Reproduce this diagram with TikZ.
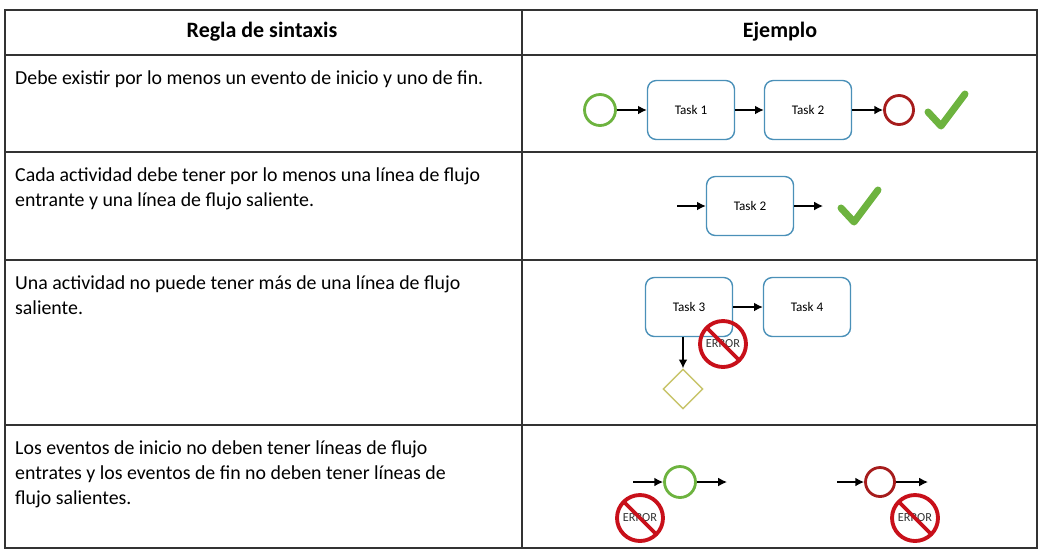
\documentclass[tikz,border=0pt]{standalone}
\usepackage{fontspec}
\setmainfont{Carlito}
\usetikzlibrary{shapes.geometric,arrows.meta,calc}
\definecolor{taskBlue}{HTML}{4A90B8}
\definecolor{startGreen}{HTML}{6DB33F}
\definecolor{endRed}{HTML}{A61C1C}
\definecolor{errRed}{HTML}{C8101A}
\definecolor{gateOlive}{HTML}{C8C46A}
\definecolor{gridGray}{HTML}{333333}

\begin{document}
\begin{tikzpicture}[
    x=0.02cm, y=-0.02cm,
    % estilos comunes
    grid_line/.style={gridGray, line width=1.2pt},
    task_box/.style={draw=taskBlue, thick, rounded corners=5pt, minimum width=1.74cm, minimum height=1.18cm, font=\fontsize{7.5}{8}\selectfont},
    start_ev/.style={circle, draw=startGreen, line width=1.6pt, minimum size=0.62cm, inner sep=0},
    end_ev/.style={circle, draw=endRed, line width=1.6pt, minimum size=0.58cm, inner sep=0},
    gate_box/.style={diamond, draw=gateOlive, thick, minimum size=0.8cm, inner sep=0},
    flow/.style={-{Latex[length=5pt,width=5pt]}, thick},
    rule_text/.style={anchor=north west, align=left, font=\fontsize{11.3}{14.5}\selectfont},
    head_text/.style={font=\bfseries\fontsize{12.5}{15}\selectfont}
]

    % --- señal de error ---
    \newcommand{\errsign}[2]{
        \node[font=\fontsize{7}{7}\selectfont, text=black!80] (#1) at (#2) {ERROR};
        \draw[errRed, line width=2.2pt] (#2) circle (0.46cm);
        \draw[errRed, line width=2.2pt] ($(#2)+(135:0.46cm)$) -- ($(#2)+(-45:0.46cm)$);
    }
    % --- marca de verificación ---
    \newcommand{\okmark}[2]{
        \coordinate (#1) at (#2);
        \draw[startGreen, line width=4pt, line cap=round, line join=round]
            ($(#1)+(-17,0)$) -- ($(#1)+(-4,14)$) -- ($(#1)+(20,-18)$);
    }

    \useasboundingbox (0,0) rectangle (1047,559);

    % --- tabla ---
    \draw[grid_line] (5,10) rectangle (1037,548);
    \draw[grid_line] (522,10) -- (522,548);
    \foreach \yy in {55,152,260,425} {
        \draw[grid_line] (5,\yy) -- (1037,\yy);
    }
    \node[head_text] (hRule) at (262,32) {Regla de sintaxis};
    \node[head_text] (hEx) at (780,32) {Ejemplo};

    \node[rule_text] (r1) at (9,64) {Debe existir por lo menos un evento de inicio y uno de fin.};
    \node[rule_text] (r2) at (9,161) {Cada actividad debe tener por lo menos una línea de flujo\\entrante y una línea de flujo saliente.};
    \node[rule_text] (r3) at (9,269) {Una actividad no puede tener más de una línea de flujo\\saliente.};
    \node[rule_text] (r4) at (9,434) {Los eventos de inicio no deben tener líneas de flujo\\entrates y los eventos de fin no deben tener líneas de\\flujo salientes.};

    % --- fila 1 ---
    \node[start_ev] (s1) at (600,110) {};
    \node[task_box] (t1) at (691,110) {Task 1};
    \node[task_box] (t2) at (808,110) {Task 2};
    \node[end_ev] (e1) at (899,110) {};
    \draw[flow] (s1) -- (t1);
    \draw[flow] (t1) -- (t2);
    \draw[flow] (t2) -- (e1);
    \okmark{ok1}{945,112}

    % --- fila 2 ---
    \node[task_box] (t2b) at (750,206) {Task 2};
    \coordinate (in2) at (677,206);
    \coordinate (out2) at (823,206);
    \draw[flow] (in2) -- (t2b);
    \draw[flow] (t2b) -- (out2);
    \okmark{ok2}{858,208}

    % --- fila 3 ---
    \node[task_box] (t3) at (689,307) {Task 3};
    \node[task_box] (t4) at (807,307) {Task 4};
    \node[gate_box] (g3) at (683,389) {};
    \draw[flow] (t3) -- (t4);
    \draw[flow] (t3.south -| g3) -- (g3);
    \errsign{err3}{723,344}

    % --- fila 4 ---
    \node[start_ev] (s4) at (680,482) {};
    \coordinate (in4) at (633,482);
    \coordinate (out4) at (727,482);
    \draw[flow] (in4) -- (s4);
    \draw[flow] (s4) -- (out4);
    \errsign{err4a}{640,518}
    \node[end_ev] (e4) at (880,482) {};
    \coordinate (in4b) at (837,482);
    \coordinate (out4b) at (928,482);
    \draw[flow] (in4b) -- (e4);
    \draw[flow] (e4) -- (out4b);
    \errsign{err4b}{915,518}

\end{tikzpicture}
\end{document}
